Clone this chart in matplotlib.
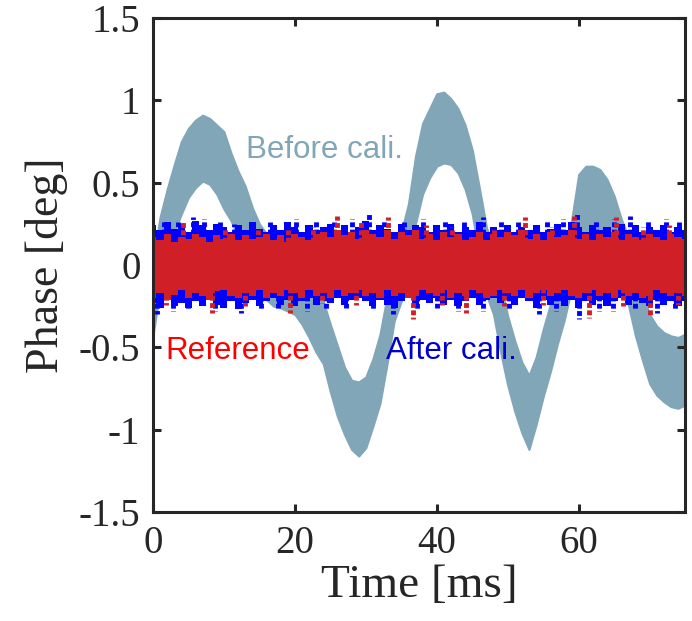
import numpy as np
import matplotlib

matplotlib.use("Agg")
import matplotlib.pyplot as plt

# ---- data (time in ms, phase in deg) ----
t = np.arange(0, 76)  # 1 ms grid, 0..75

# "Before cali." band: upper / lower edges of the thick noisy trace
before_hi = [0.02, 0.29, 0.46, 0.61, 0.75, 0.83, 0.88, 0.91, 0.89, 0.85,
             0.81, 0.68, 0.57, 0.48, 0.35, 0.25, 0.19, 0.16, 0.14, 0.12,
             0.10, 0.05, -0.03, -0.13, -0.22, -0.36, -0.49, -0.62, -0.70, -0.71,
             -0.68, -0.57, -0.42, -0.19, 0.07, 0.20, 0.37, 0.66, 0.86, 0.95,
             1.04, 1.05, 1.01, 0.95, 0.85, 0.70, 0.47, 0.23, 0.10, -0.12,
             -0.31, -0.46, -0.59, -0.67, -0.56, -0.39, -0.24, -0.08, 0.08, 0.27,
             0.55, 0.60, 0.60, 0.58, 0.52, 0.42, 0.28, 0.17, -0.02, -0.18,
             -0.30, -0.37, -0.41, -0.43, -0.44, -0.42]
before_lo = [-0.43, -0.15, 0.05, 0.20, 0.31, 0.41, 0.47, 0.51, 0.49, 0.43,
             0.34, 0.27, 0.17, 0.07, -0.05, -0.16, -0.21, -0.25, -0.26, -0.28,
             -0.30, -0.36, -0.44, -0.53, -0.60, -0.77, -0.92, -1.03, -1.12, -1.16,
             -1.11, -0.98, -0.84, -0.60, -0.34, -0.22, -0.05, 0.25, 0.43, 0.53,
             0.60, 0.62, 0.61, 0.56, 0.46, 0.31, 0.06, -0.18, -0.30, -0.53,
             -0.73, -0.89, -1.02, -1.12, -0.97, -0.80, -0.65, -0.48, -0.33, -0.14,
             0.13, 0.19, 0.22, 0.21, 0.14, 0.01, -0.12, -0.24, -0.43, -0.58,
             -0.72, -0.79, -0.83, -0.86, -0.87, -0.85]

# "After cali." band
after_hi = [0.24, 0.21, 0.26, 0.22, 0.25, 0.20, 0.27, 0.24, 0.21, 0.25,
            0.23, 0.20, 0.24, 0.21, 0.26, 0.22, 0.20, 0.24, 0.21, 0.26,
            0.23, 0.20, 0.24, 0.21, 0.23, 0.25, 0.21, 0.24, 0.20, 0.23,
            0.27, 0.21, 0.24, 0.22, 0.20, 0.25, 0.21, 0.24, 0.23, 0.20,
            0.24, 0.21, 0.25, 0.20, 0.23, 0.21, 0.26, 0.20, 0.23, 0.21,
            0.24, 0.20, 0.23, 0.21, 0.24, 0.20, 0.22, 0.25, 0.21, 0.26,
            0.23, 0.20, 0.24, 0.21, 0.23, 0.20, 0.25, 0.21, 0.24, 0.20,
            0.23, 0.21, 0.24, 0.20, 0.23, 0.21]
after_lo = [-0.23, -0.26, -0.21, -0.25, -0.23, -0.26, -0.22, -0.25, -0.21, -0.24,
            -0.26, -0.22, -0.27, -0.23, -0.21, -0.25, -0.22, -0.20, -0.24, -0.21,
            -0.25, -0.22, -0.20, -0.24, -0.21, -0.23, -0.20, -0.24, -0.21, -0.20,
            -0.22, -0.25, -0.21, -0.24, -0.26, -0.22, -0.20, -0.24, -0.21, -0.23,
            -0.20, -0.24, -0.21, -0.25, -0.22, -0.20, -0.24, -0.21, -0.20, -0.23,
            -0.21, -0.24, -0.20, -0.22, -0.26, -0.21, -0.24, -0.22, -0.25, -0.21,
            -0.26, -0.22, -0.24, -0.21, -0.25, -0.22, -0.20, -0.24, -0.21, -0.23,
            -0.25, -0.21, -0.24, -0.22, -0.25, -0.22]

# "Reference" band
ref_hi = [0.17, 0.15, 0.19, 0.14, 0.17, 0.16, 0.19, 0.17, 0.14, 0.18,
          0.16, 0.19, 0.15, 0.18, 0.16, 0.17, 0.19, 0.15, 0.18, 0.14,
          0.19, 0.17, 0.15, 0.19, 0.20, 0.17, 0.21, 0.18, 0.20, 0.16,
          0.21, 0.19, 0.17, 0.21, 0.16, 0.20, 0.18, 0.21, 0.16, 0.19,
          0.15, 0.20, 0.17, 0.19, 0.15, 0.17, 0.20, 0.15, 0.19, 0.17,
          0.20, 0.18, 0.21, 0.16, 0.19, 0.15, 0.20, 0.17, 0.18, 0.21,
          0.16, 0.19, 0.15, 0.19, 0.17, 0.20, 0.15, 0.19, 0.17, 0.15,
          0.19, 0.17, 0.15, 0.19, 0.17, 0.16]
ref_lo = [-0.20, -0.17, -0.21, -0.18, -0.15, -0.20, -0.17, -0.19, -0.21, -0.16,
          -0.15, -0.19, -0.20, -0.17, -0.19, -0.15, -0.20, -0.17, -0.19, -0.15,
          -0.17, -0.20, -0.15, -0.19, -0.17, -0.20, -0.15, -0.19, -0.17, -0.15,
          -0.19, -0.17, -0.20, -0.15, -0.19, -0.17, -0.20, -0.19, -0.15, -0.17,
          -0.19, -0.15, -0.20, -0.17, -0.19, -0.15, -0.17, -0.20, -0.19, -0.15,
          -0.17, -0.19, -0.15, -0.20, -0.17, -0.15, -0.19, -0.17, -0.15, -0.19,
          -0.20, -0.17, -0.15, -0.19, -0.17, -0.20, -0.15, -0.19, -0.17, -0.20,
          -0.19, -0.15, -0.17, -0.19, -0.17, -0.19]

# isolated excursions sticking out of the bands
after_up_t = [1.5, 3.5, 5.6, 7.2, 9.5, 11.4, 14.0, 16.5, 20.2, 23.0, 25.5, 28.0, 30.5, 32.5, 35.4,
              38.0, 41.2, 43.8, 46.5, 49.0, 51.5, 55.5, 57.8, 59.8, 62.5, 65.0, 67.2, 69.8, 72.3, 74.2]
after_up_v = [0.27, 0.26, 0.29, 0.28, 0.26, 0.25, 0.27, 0.26, 0.28, 0.27, 0.26, 0.28, 0.31, 0.27, 0.26,
              0.28, 0.27, 0.26, 0.29, 0.27, 0.26, 0.27, 0.28, 0.31, 0.27, 0.28, 0.30, 0.27, 0.28, 0.26]
after_dn_t = [0.6, 2.8, 5.0, 8.8, 12.4, 15.2, 17.6, 21.7, 24.4, 27.2, 31.0, 33.9, 37.2, 40.0, 43.0,
              46.5, 50.2, 54.4, 56.8, 60.0, 62.8, 64.8, 68.0, 71.0, 73.6]
after_dn_v = [-0.30, -0.28, -0.27, -0.28, -0.29, -0.27, -0.26, -0.28, -0.27, -0.26, -0.27, -0.30, -0.27,
              -0.26, -0.28, -0.28, -0.27, -0.30, -0.28, -0.33, -0.28, -0.28, -0.27, -0.29, -0.27]
ref_up_t = [4.3, 10.2, 14.8, 19.0, 22.5, 25.9, 29.3, 33.1, 38.5, 42.2, 48.0, 52.4, 56.3, 59.3, 65.2, 69.0, 72.8]
ref_up_v = [0.27, 0.22, 0.21, 0.22, 0.23, 0.30, 0.26, 0.29, 0.24, 0.23, 0.22, 0.29, 0.23, 0.30, 0.29, 0.23, 0.24]
ref_dn_t = [1.8, 8.3, 13.0, 19.3, 23.8, 28.6, 36.7, 40.8, 44.1, 49.5, 55.0, 61.5, 66.3, 70.1, 74.0]
ref_dn_v = [-0.24, -0.29, -0.25, -0.29, -0.23, -0.24, -0.33, -0.24, -0.29, -0.25, -0.24, -0.32, -0.25,
            -0.31, -0.24]

yticks = [-1.5, -1, -0.5, 0, 0.5, 1, 1.5]
ytick_labels = ["-1.5", "-1", "-0.5", "0", "0.5", "1", "1.5"]
xticks = [0, 20, 40, 60]

c_before = "#80a6b7"
c_after = "#0000ff"
c_ref = "#d01f27"
ink = "#262626"
serif = ["Liberation Serif", "DejaVu Serif"]
sans = ["Liberation Sans", "DejaVu Sans"]
dash = (0, (1.0, 0.5))

fig = plt.figure(figsize=(6.92, 6.21), dpi=100)
ax = fig.add_axes([0.221, 0.1755, 0.769, 0.7955])

ax.fill_between(t, before_lo, before_hi, color=c_before, lw=1.5, ec=c_before, zorder=1)

ax.fill_between(t, after_lo, after_hi, color=c_after, step="mid", lw=0, zorder=2)
ax.vlines(after_up_t, 0.19, after_up_v, color=c_after, lw=3.5, linestyles=dash, zorder=2.5)
ax.vlines(after_dn_t, -0.19, after_dn_v, color=c_after, lw=3.5, linestyles=dash, zorder=2.5)

ax.fill_between(t, ref_lo, ref_hi, color=c_ref, step="mid", lw=0, zorder=3)
ax.vlines(ref_up_t, 0.14, ref_up_v, color=c_ref, lw=3.5, linestyles=dash, zorder=3.5)
ax.vlines(ref_dn_t, -0.14, ref_dn_v, color=c_ref, lw=3.5, linestyles=dash, zorder=3.5)

ax.text(13.1, 0.70, "Before cali.", color=c_before, fontsize=22.5, family=sans, va="center")
ax.text(1.7, -0.52, "Reference", color="#ff0000", fontsize=22.5, family=sans, va="center")
ax.text(32.8, -0.52, "After cali.", color="#0000cc", fontsize=22.5, family=sans, va="center")

ax.set_xlim(0, 75)
ax.set_ylim(-1.5, 1.5)
ax.set_xticks(xticks)
ax.set_yticks(yticks)
ax.set_yticklabels(ytick_labels)
for s in ax.spines.values():
    s.set_linewidth(2.2)
    s.set_color(ink)
    s.set_zorder(5)
ax.tick_params(direction="in", length=6, width=2.2, color=ink, labelcolor=ink,
               top=True, right=True, labelsize=28, pad=9)
for lab in ax.get_xticklabels() + ax.get_yticklabels():
    lab.set_family(serif)
ax.set_xlabel("Time [ms]", fontsize=34, family=serif, color=ink, labelpad=2)
ax.set_ylabel("Phase [deg]", fontsize=33, family=serif, color=ink, labelpad=8)

fig.savefig("out.png", dpi=100)
